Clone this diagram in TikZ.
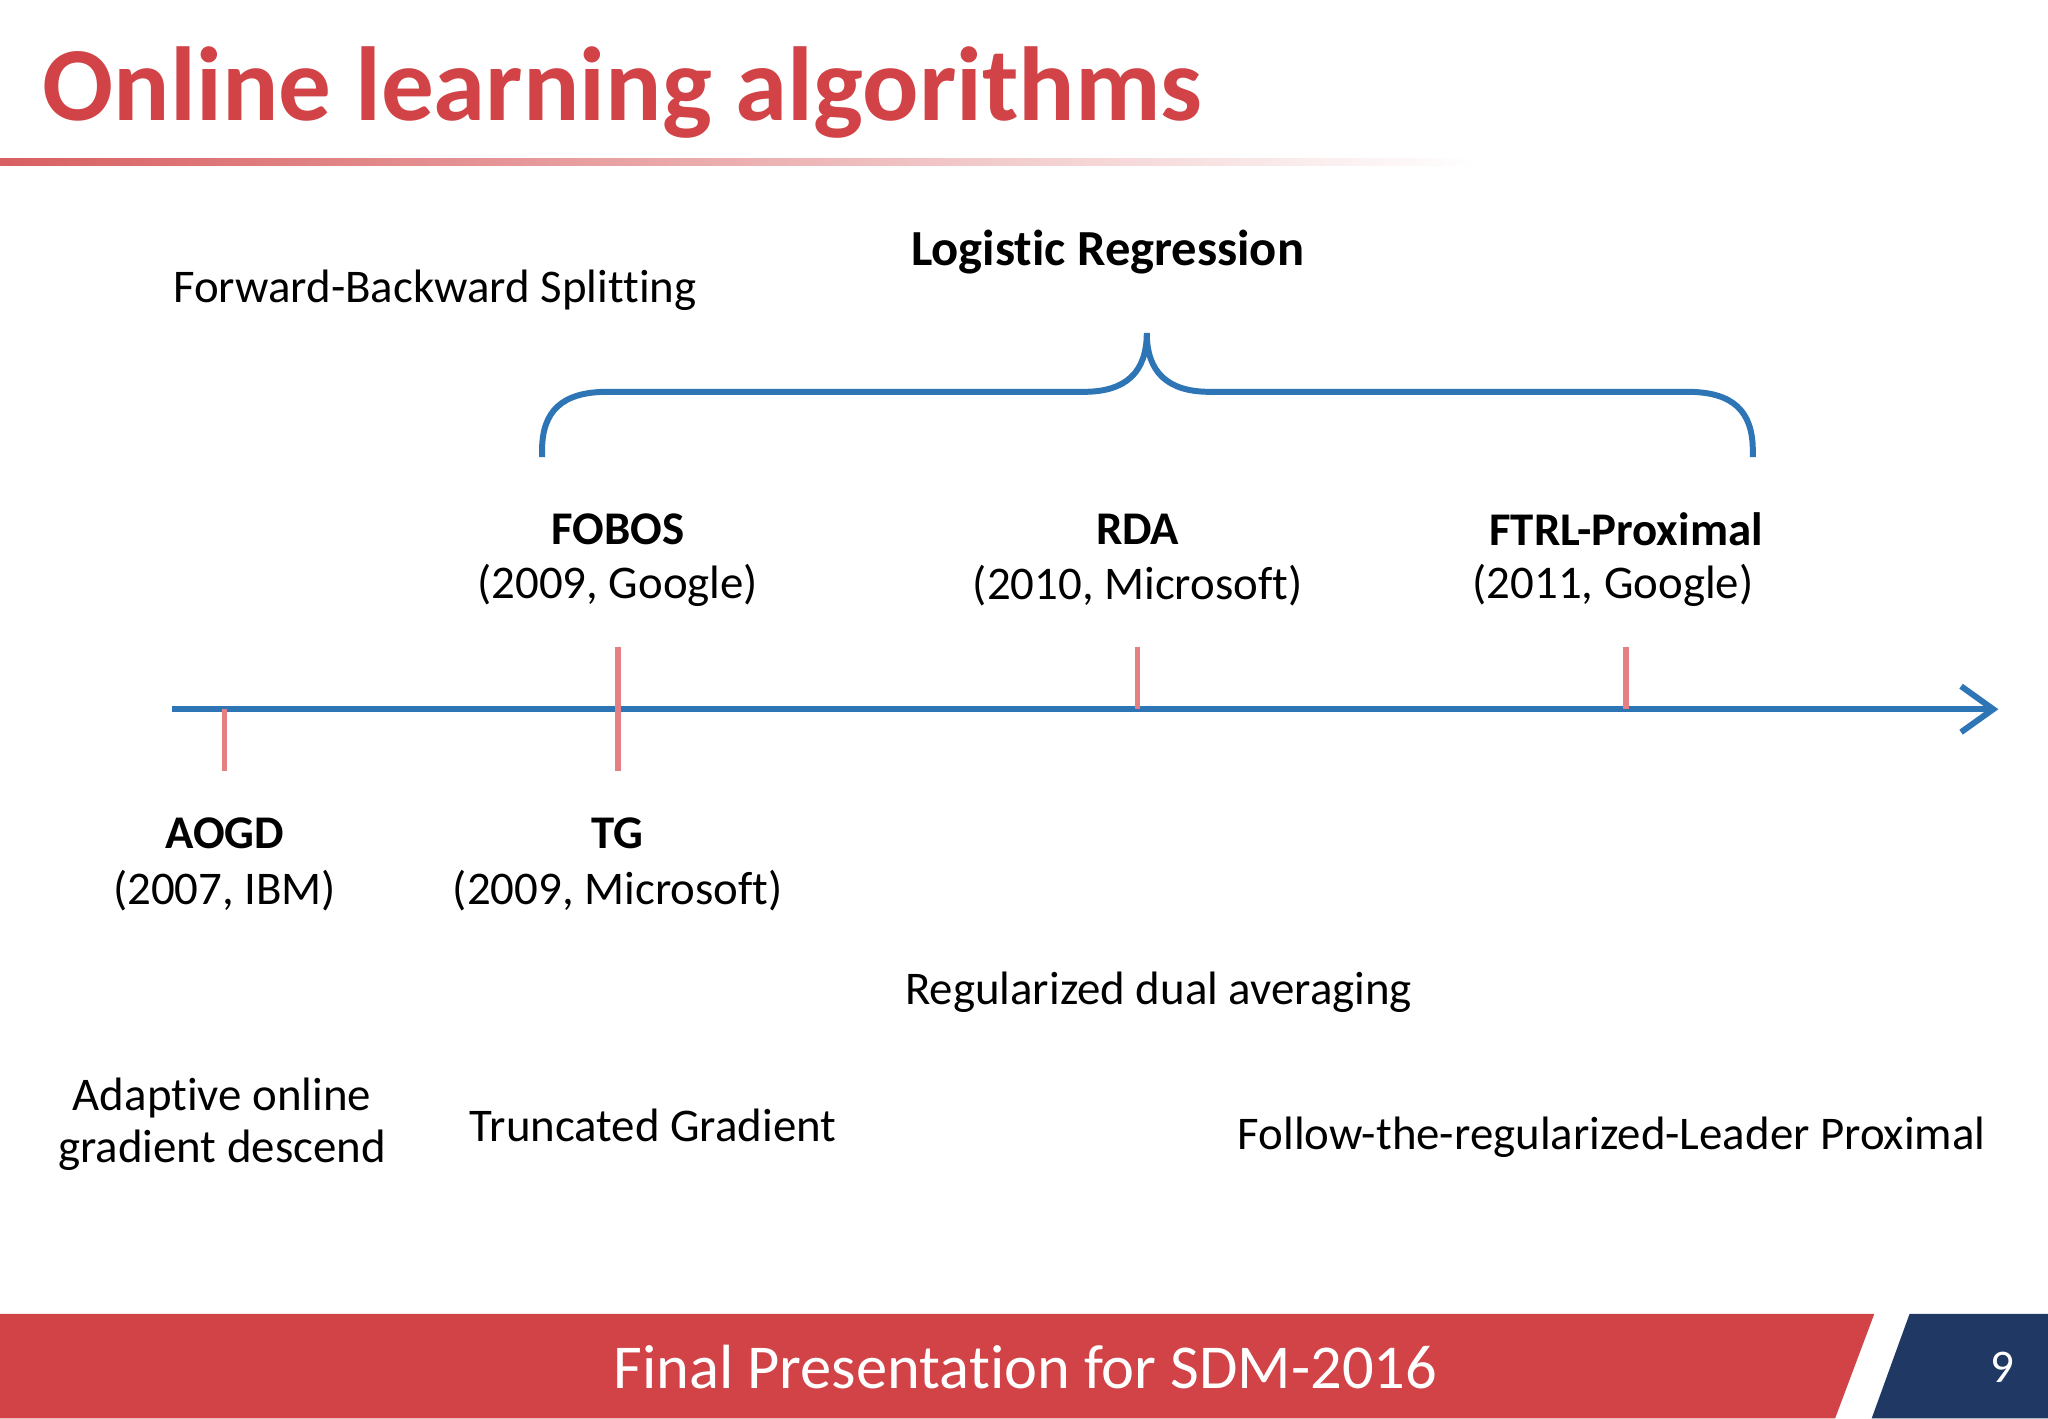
\documentclass[tikz,border=0pt]{standalone}
\usepackage{fontspec}
\setmainfont{Carlito}[Ligatures={NoCommon}]
\usetikzlibrary{arrows.meta}
\definecolor{tred}{RGB}{209,67,70}
\definecolor{tblue}{RGB}{46,117,182}
\definecolor{tpink}{RGB}{228,128,132}
\definecolor{tnavy}{RGB}{31,56,100}
\begin{document}
\begin{tikzpicture}[x=0.01cm,y=-0.01cm,
  lbl/.style={inner sep=0pt,align=center,font=\fontsize{10.2}{12.4}\selectfont},
  blbl/.style={lbl,font=\fontsize{10.2}{12.4}\selectfont\bfseries},
  tick/.style={tpink,line width=1.2pt},
  blue line/.style={tblue,line width=1.3pt}]
\useasboundingbox (0,0) rectangle (1568,1086);
\fill[white] (0,0) rectangle (1568,1086);
% title
\node[anchor=base west,inner sep=0pt,text=tred,font=\fontsize{22.9}{26}\selectfont\bfseries] (title) at (32,92) {Online learning algorithms};
\shade[left color=tred!85,right color=white] (0,121) rectangle (1130,127);
% brace
\coordinate (bl) at (415,350);
\coordinate (bm) at (878,255);
\coordinate (br) at (1342,350);
\draw[blue line] (bl) -- (415,345) .. controls (415,315) and (430,300) .. (465,300) -- (830,300) .. controls (862,300) and (878,285) .. (bm)
  .. controls (878,285) and (894,300) .. (926,300) -- (1292,300) .. controls (1327,300) and (1342,315) .. (1342,345) -- (br);
\node[blbl,font=\fontsize{11}{12}\selectfont\bfseries] (lr) at (848,193) {Logistic Regression};
\node[lbl] (fbs) at (333,222) {Forward-Backward Splitting};
% timeline
\coordinate (ts) at (132,543);
\coordinate (te) at (1530,543);
\draw[blue line,-{Straight Barb[length=7pt,width=10pt,line width=1.3pt]}] (ts) -- (te);
\draw[tick] (172,543) -- (172,590);
\draw[tick] (473,495) -- (473,590);
\draw[tick] (871,495) -- (871,543);
\draw[tick] (1245,495) -- (1245,543);
% labels above
\node[blbl] (fobos) at (473,405) {FOBOS};
\node[lbl] (fobosy) at (473,448) {(2009, Google)};
\node[blbl] (rda) at (871,405) {RDA};
\node[lbl] (rday) at (871,448) {(2010, Microsoft)};
\node[blbl] (ftrl) at (1245,405) {FTRL-Proximal};
\node[lbl] (ftrly) at (1235,448) {(2011, Google)};
% labels below
\node[blbl] (aogd) at (172,638) {AOGD};
\node[lbl] (aogdy) at (172,682) {(2007, IBM)};
\node[blbl] (tg) at (473,638) {TG};
\node[lbl] (tgy) at (473,682) {(2009, Microsoft)};
\node[lbl] (rdad) at (887,760) {Regularized dual averaging};
\node[lbl,align=center] (aogdd) at (170,861) {Adaptive online\\[-1pt]gradient descend};
\node[lbl] (tgd) at (500,862) {Truncated Gradient};
\node[lbl] (ftrld) at (1234,871) {Follow-the-regularized-Leader Proximal};
% footer
\fill[tred] (0,1006) -- (1435,1006) -- (1405,1086) -- (0,1086) -- cycle;
\fill[tnavy] (1462,1006) -- (1568,1006) -- (1568,1086) -- (1433,1086) -- cycle;
\node[lbl,text=white,font=\fontsize{13.6}{15}\selectfont] (foot) at (785,1047) {Final Presentation for SDM-2016};
\node[lbl,text=white,font=\fontsize{10.2}{12}\selectfont] (pg) at (1533,1047) {9};
\end{tikzpicture}
\end{document}
